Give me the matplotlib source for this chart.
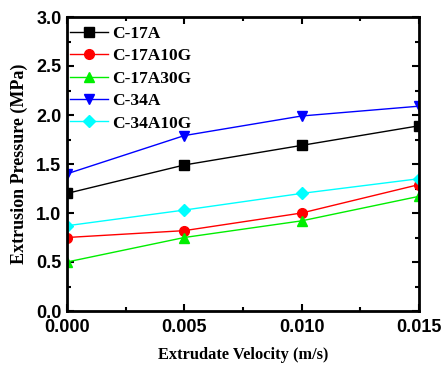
import matplotlib
matplotlib.use('Agg')
import matplotlib.pyplot as plt
from matplotlib.ticker import MultipleLocator, FormatStrFormatter

# data
velocity = [0.000, 0.005, 0.010, 0.015]
c17a = [1.20, 1.49, 1.69, 1.89]
c17a10g = [0.75, 0.82, 1.00, 1.29]
c17a30g = [0.50, 0.75, 0.92, 1.17]
c34a = [1.40, 1.79, 1.99, 2.09]
c34a10g = [0.87, 1.03, 1.20, 1.35]

series = [
    ('C-17A', c17a, 'black', 's'),
    ('C-17A10G', c17a10g, 'red', 'o'),
    ('C-17A30G', c17a30g, '#00ee00', '^'),
    ('C-34A', c34a, 'blue', 'v'),
    ('C-34A10G', c34a10g, 'cyan', 'D'),
]

serif = ['Liberation Serif', 'DejaVu Serif']
sans = ['Liberation Sans', 'DejaVu Sans']

fig = plt.figure(figsize=(4.41, 3.65), dpi=100, facecolor='w')
ax = fig.add_axes([67/441, 1-311/365, (419-67)/441, (311-17)/365])

for name, vals, col, mk in series:
    ms = 7 if mk != 'D' else 6
    ax.plot(velocity, vals, color=col, marker=mk, markersize=ms, linewidth=1.0, label=name)

ax.set_xlim(0, 0.015)
ax.set_ylim(0, 3.0)
ax.xaxis.set_major_locator(MultipleLocator(0.005))
ax.xaxis.set_minor_locator(MultipleLocator(0.0025))
ax.yaxis.set_major_locator(MultipleLocator(0.5))
ax.yaxis.set_minor_locator(MultipleLocator(0.25))
ax.xaxis.set_major_formatter(FormatStrFormatter('%.3f'))
ax.yaxis.set_major_formatter(FormatStrFormatter('%.1f'))

ax.tick_params(which='both', direction='in', top=True, right=True, width=1.5)
ax.tick_params(which='major', length=5, labelsize=13)
ax.tick_params(axis='x', which='major', pad=6)
ax.tick_params(axis='y', which='major', pad=4)
ax.tick_params(which='minor', length=3)
for lab in ax.get_xticklabels() + ax.get_yticklabels():
    lab.set_family(sans)
    lab.set_fontweight('bold')
for sp in ax.spines.values():
    sp.set_linewidth(2)

ax.set_xlabel('Extrudate Velocity (m/s)', family=serif, fontweight='bold', fontsize=11.8, labelpad=8)
ax.set_ylabel('Extrusion Pressure (MPa)', family=serif, fontweight='bold', fontsize=13, labelpad=6)

leg = ax.legend(loc='upper left', bbox_to_anchor=(-0.005, 0.985), frameon=False,
                prop={'family': serif, 'weight': 'bold', 'size': 12.5},
                handlelength=2.2, handletextpad=0.25, labelspacing=0.36, borderaxespad=0.05,
                borderpad=0.2)

fig.savefig('out.png', dpi=100)
